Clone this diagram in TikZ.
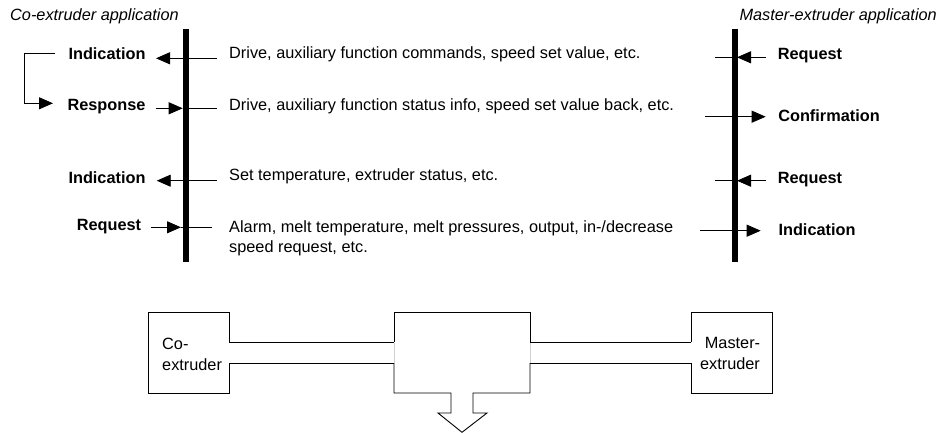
\documentclass[tikz,border=0pt]{standalone}
\usepackage{fontspec}
\setmainfont{Liberation Sans}
\usetikzlibrary{arrows.meta}
\begin{document}
\begin{tikzpicture}[x=1pt,y=-1pt,
  txt/.style={inner sep=0pt, anchor=base west, font=\fontsize{16.3}{19}\selectfont},
  ital/.style={inner sep=0pt, font=\fontsize{16.3}{19}\selectfont\itshape},
  lbl/.style={inner sep=0pt, anchor=base, font=\fontsize{16.3}{19}\selectfont\bfseries},
  ln/.style={line width=0.9pt},
  arr/.style={line width=0.9pt, -{Triangle[length=14pt,width=12pt]}},
  barline/.style={line width=6.6pt},
  pipe/.style={line width=0.9pt, line join=miter},
  seam/.style={line width=0.9pt, black!18}]
\useasboundingbox (0,0) rectangle (942,433);

% titles
\node[ital, anchor=base west] (coapp) at (10,21) {Co-extruder application};
\node[ital, anchor=base east] (maapp) at (937,21) {Master-extruder application};

% bars
\coordinate (LT) at (186,29); \coordinate (LB) at (186,262);
\coordinate (RT) at (735,29); \coordinate (RB) at (735,262);

% ---- row 1
\node[lbl] (ind1) at (107,60) {Indication};
\coordinate (a1s) at (216.7,58.3); \coordinate (a1e) at (156,58.3);
\draw[arr] (a1s) -- (a1e);
\node[txt] (m1) at (229,58.5) {Drive, auxiliary function commands, speed set value, etc.};
\node[lbl] (rq1) at (810,60) {Request};
\coordinate (r1a) at (715,57.3); \coordinate (r1b) at (737,57.3); \coordinate (r1c) at (766,57.3);
\draw[ln] (r1a) -- (r1c);
\draw[arr] (r1c) -- (r1b);

% ---- row 2
\node[lbl] (resp) at (106.5,110.5) {Response};
\coordinate (b1) at (155.7,108.3); \coordinate (b2) at (182.7,108.3); \coordinate (b3) at (216.7,108.3);
\draw[arr] (b1) -- (b2);
\draw[ln] (b2) -- (b3);
\coordinate (k1) at (55,53.3); \coordinate (k2) at (24,53.3);
\coordinate (k3) at (24,103.3); \coordinate (k4) at (53,103.3);
\draw[arr] (k1) -- (k2) -- (k3) -- (k4);
\node[txt] (m2) at (229,110.5) {Drive, auxiliary function status info, speed set value back, etc.};
\node[lbl] (cf) at (829,121.5) {Confirmation};
\coordinate (r2a) at (705,116.7); \coordinate (r2b) at (765.7,116.7);
\draw[arr] (r2a) -- (r2b);

% ---- row 3
\node[lbl] (ind3) at (107,183) {Indication};
\coordinate (a3s) at (216.7,180.7); \coordinate (a3e) at (156.7,180.7);
\draw[arr] (a3s) -- (a3e);
\node[txt] (m3) at (229,180.5) {Set temperature, extruder status, etc.};
\node[lbl] (rq3) at (810,183) {Request};
\coordinate (r3a) at (715,180.7); \coordinate (r3b) at (737,180.7); \coordinate (r3c) at (766,180.7);
\draw[ln] (r3a) -- (r3c);
\draw[arr] (r3c) -- (r3b);

% ---- row 4
\node[lbl] (req4) at (109,230.5) {Request};
\coordinate (a4s) at (150.7,227.3); \coordinate (a4e) at (181,227.3); \coordinate (a4f) at (211.7,227.3);
\draw[arr] (a4s) -- (a4e);
\draw[ln] (a4e) -- (a4f);
\node[txt] (m4a) at (229,232.8) {Alarm, melt temperature, melt pressures, output, in-/decrease};
\node[txt] (m4b) at (229,252) {speed request, etc.};
\node[lbl] (ri4) at (817,235) {Indication};
\coordinate (r4a) at (700,230.7); \coordinate (r4b) at (760.7,230.7);
\draw[arr] (r4a) -- (r4b);

% bars on top
\draw[barline] (LT) -- (LB);
\draw[barline] (RT) -- (RB);

% ---- bottom plant sketch
% co-extruder
\draw[pipe] (229,342) -- (229,312) -- (148,312) -- (148,393) -- (229,393) -- (229,363);
\node[txt] (co1) at (162,349) {Co-};
\node[txt] (co2) at (162,370) {extruder};
% pipes left
\draw[pipe] (229,342) -- (394,342);
\draw[pipe] (229,363) -- (394,363);
% middle box with outlet arrow
\draw[pipe] (394,342) -- (394,312) -- (530,312) -- (530,342);
\draw[pipe] (530,363) -- (530,393) -- (473,393) -- (473,413) -- (487,413) -- (462,432.3)
  -- (438,413) -- (451,413) -- (451,393) -- (394,393) -- (394,363);
\draw[seam] (394,342.5) -- (394,362.5);
\draw[seam] (530,342.5) -- (530,362.5);
% pipes right
\draw[pipe] (530,342) -- (691,342);
\draw[pipe] (530,363) -- (691,363);
% master extruder
\draw[pipe] (691,342) -- (691,312) -- (772,312) -- (772,393) -- (691,393) -- (691,363);
\node[inner sep=0pt, anchor=base, font=\fontsize{16.3}{19}\selectfont] (ma1) at (732.5,348.5) {Master-};
\node[inner sep=0pt, anchor=base, font=\fontsize{16.3}{19}\selectfont] (ma2) at (730,369) {extruder};
\end{tikzpicture}
\end{document}
